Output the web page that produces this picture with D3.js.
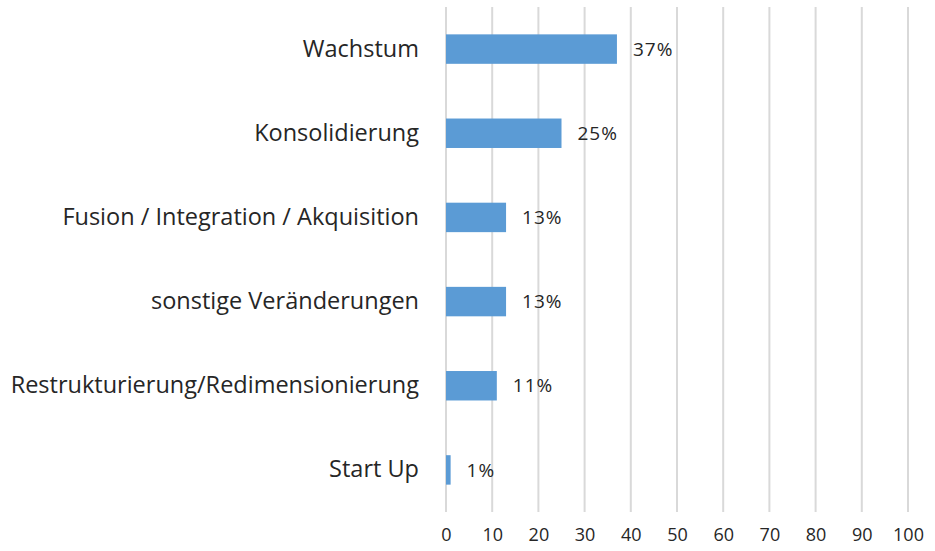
<!DOCTYPE html>
<html lang="de">
<head>
    <meta charset="UTF-8">
    <title>Anlass</title>
    <style>
        body { margin: 0; background: #fff; }
        svg text { font-family: "Open Sans", "Noto Sans", sans-serif; fill: #262626; }
    </style>
    <script src="https://d3js.org/d3.v7.min.js"></script>
</head>
<body>
<div id="chart"></div>
<script>
    // data
    var categories = ["Wachstum", "Konsolidierung", "Fusion / Integration / Akquisition",
        "sonstige Veränderungen", "Restrukturierung/Redimensionierung", "Start Up"];
    var values = [37, 25, 13, 13, 11, 1];
    var xTicks = [0, 10, 20, 30, 40, 50, 60, 70, 80, 90, 100];

    var width = 935, height = 551;
    var margin = {top: 7, right: 27, bottom: 39, left: 446};

    var svg = d3.select("#chart").append("svg")
        .attr("width", width).attr("height", height);

    var x = d3.scaleLinear().domain([0, 100]).range([margin.left, width - margin.right]);
    var y = d3.scaleBand().domain(categories).range([margin.top, height - margin.bottom]).paddingInner(0.65).paddingOuter(0.325);

    // vertical gridlines
    svg.append("g").selectAll("line")
        .data(xTicks)
        .join("line")
        .attr("x1", d => x(d)).attr("x2", d => x(d))
        .attr("y1", margin.top).attr("y2", height - margin.bottom)
        .attr("stroke", "#d9d9d9").attr("stroke-width", 2);

    // x axis labels
    var xAxis = svg.append("g")
        .attr("transform", "translate(0," + (height - margin.bottom) + ")")
        .call(d3.axisBottom(x).tickValues(xTicks).tickSize(0).tickPadding(16));
    xAxis.select(".domain").remove();
    xAxis.selectAll("text").style("font-size", "18px").attr("fill", "#262626");

    // category labels
    var yAxis = svg.append("g")
        .attr("transform", "translate(" + (margin.left - 27) + ",0)")
        .call(d3.axisLeft(y).tickSize(0).tickPadding(0));
    yAxis.select(".domain").remove();
    yAxis.selectAll("text").style("font-size", "23.5px").attr("fill", "#262626");

    // bars
    var rows = categories.map((c, i) => ({cat: c, val: values[i]}));
    svg.append("g").selectAll("rect")
        .data(rows)
        .join("rect")
        .attr("x", x(0))
        .attr("y", d => y(d.cat))
        .attr("width", d => x(d.val) - x(0))
        .attr("height", y.bandwidth())
        .attr("fill", "#5b9bd5");

    // value labels
    svg.append("g").selectAll("text")
        .data(rows)
        .join("text")
        .attr("x", d => x(d.val) + 16)
        .attr("y", d => y(d.cat) + y.bandwidth() / 2)
        .attr("dy", "0.35em")
        .style("font-size", "19px")
        .style("letter-spacing", "1px")
        .text(d => d.val + "%");
</script>
</body>
</html>
